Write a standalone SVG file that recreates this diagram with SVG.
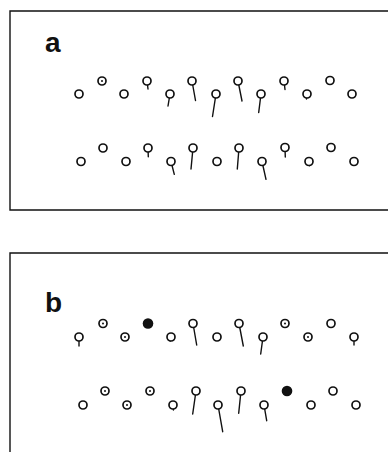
<svg xmlns="http://www.w3.org/2000/svg" width="388" height="452" viewBox="0 0 388 452">
  <style>
    .frame { fill: none; stroke: #111; stroke-width: 1.4; }
    .ring { fill: #fff; stroke: #111; stroke-width: 1.7; }
    .solid { fill: #111; stroke: none; }
    .dot { fill: #111; stroke: none; }
    .tail { stroke: #111; stroke-width: 1.4; stroke-linecap: round; fill: none; }
    .label { font-family: "Liberation Sans", Arial, sans-serif; font-weight: bold; font-size: 28px; fill: #111; }
  </style>
  <rect width="388" height="452" fill="#fff"/>

  <!-- panel frames (open on the right / bottom) -->
  <g id="frames">
    <path class="frame" d="M390 11 H10 V210 H390"/>
    <path class="frame" d="M390 253 H10 V454"/>
  </g>

  <text class="label" x="45" y="52">a</text>
  <text class="label" x="45" y="312">b</text>

  <!-- tails: orientation markers drawn from each site centre -->
  <g id="connectors">
    <!-- panel a, upper row -->
    <line class="tail" x1="79" y1="94" x2="79" y2="97.5"/>
    <line class="tail" x1="124" y1="94" x2="124" y2="97.5"/>
    <line class="tail" x1="147" y1="81" x2="148" y2="89"/>
    <line class="tail" x1="170" y1="94" x2="168" y2="106"/>
    <line class="tail" x1="192" y1="81" x2="195.5" y2="100.5"/>
    <line class="tail" x1="216" y1="94" x2="212.5" y2="116.5"/>
    <line class="tail" x1="238" y1="81" x2="242" y2="101"/>
    <line class="tail" x1="261" y1="94" x2="258.7" y2="112.5"/>
    <line class="tail" x1="284" y1="81" x2="285" y2="89.5"/>
    <line class="tail" x1="307" y1="94" x2="306.5" y2="99"/>
    <!-- panel a, lower row -->
    <line class="tail" x1="103" y1="148" x2="103" y2="151.5"/>
    <line class="tail" x1="126" y1="161.5" x2="126" y2="165"/>
    <line class="tail" x1="148" y1="148" x2="148.3" y2="156.7"/>
    <line class="tail" x1="171" y1="161.5" x2="174.3" y2="174.3"/>
    <line class="tail" x1="193" y1="148" x2="191" y2="169"/>
    <line class="tail" x1="239" y1="148" x2="237.3" y2="169"/>
    <line class="tail" x1="262" y1="161.5" x2="266" y2="179.3"/>
    <line class="tail" x1="285" y1="148" x2="285.3" y2="157"/>
    <line class="tail" x1="309" y1="161.5" x2="309.5" y2="165.7"/>
    <line class="tail" x1="354" y1="161.5" x2="354" y2="165"/>
    <!-- panel b, upper row -->
    <line class="tail" x1="79" y1="337" x2="79" y2="346"/>
    <line class="tail" x1="171" y1="337" x2="170.3" y2="341"/>
    <line class="tail" x1="193" y1="323.5" x2="196.7" y2="345"/>
    <line class="tail" x1="239" y1="323.5" x2="243.3" y2="346"/>
    <line class="tail" x1="263" y1="337" x2="260.7" y2="354"/>
    <line class="tail" x1="354" y1="337" x2="354" y2="345"/>
    <!-- panel b, lower row -->
    <line class="tail" x1="173" y1="405" x2="173.4" y2="410"/>
    <line class="tail" x1="196" y1="391" x2="192.7" y2="414"/>
    <line class="tail" x1="218" y1="405" x2="222.7" y2="431.7"/>
    <line class="tail" x1="241" y1="391" x2="238.7" y2="413.3"/>
    <line class="tail" x1="264" y1="405" x2="266.7" y2="420.7"/>
  </g>

  <!-- panel a, upper row -->
  <g id="a1-01"><circle class="ring" cx="79" cy="94" r="4"/></g>
  <g id="a1-02"><circle class="ring" cx="102" cy="81" r="4"/><circle class="dot" cx="102" cy="81" r="1"/></g>
  <g id="a1-03"><circle class="ring" cx="124" cy="94" r="4"/></g>
  <g id="a1-04"><circle class="ring" cx="147" cy="81" r="4"/></g>
  <g id="a1-05"><circle class="ring" cx="170" cy="94" r="4"/></g>
  <g id="a1-06"><circle class="ring" cx="192" cy="81" r="4"/></g>
  <g id="a1-07"><circle class="ring" cx="216" cy="94" r="4"/></g>
  <g id="a1-08"><circle class="ring" cx="238" cy="81" r="4"/></g>
  <g id="a1-09"><circle class="ring" cx="261" cy="94" r="4"/></g>
  <g id="a1-10"><circle class="ring" cx="284" cy="81" r="4"/></g>
  <g id="a1-11"><circle class="ring" cx="307" cy="94" r="4"/></g>
  <g id="a1-12"><circle class="ring" cx="330" cy="80.5" r="4"/></g>
  <g id="a1-13"><circle class="ring" cx="352" cy="94" r="4"/></g>

  <!-- panel a, lower row -->
  <g id="a2-01"><circle class="ring" cx="81" cy="161.5" r="4"/></g>
  <g id="a2-02"><circle class="ring" cx="103" cy="148" r="4"/></g>
  <g id="a2-03"><circle class="ring" cx="126" cy="161.5" r="4"/></g>
  <g id="a2-04"><circle class="ring" cx="148" cy="148" r="4"/></g>
  <g id="a2-05"><circle class="ring" cx="171" cy="161.5" r="4"/></g>
  <g id="a2-06"><circle class="ring" cx="193" cy="148" r="4"/></g>
  <g id="a2-07"><circle class="ring" cx="217" cy="161.5" r="4"/></g>
  <g id="a2-08"><circle class="ring" cx="239" cy="148" r="4"/></g>
  <g id="a2-09"><circle class="ring" cx="262" cy="161.5" r="4"/></g>
  <g id="a2-10"><circle class="ring" cx="285" cy="147.5" r="4"/></g>
  <g id="a2-11"><circle class="ring" cx="309" cy="161.5" r="4"/></g>
  <g id="a2-12"><circle class="ring" cx="331" cy="147.5" r="4"/></g>
  <g id="a2-13"><circle class="ring" cx="354" cy="161.5" r="4"/></g>

  <!-- panel b, upper row -->
  <g id="b1-01"><circle class="ring" cx="79" cy="337" r="4"/></g>
  <g id="b1-02"><circle class="ring" cx="103" cy="323.5" r="4"/><circle class="dot" cx="103" cy="323.5" r="1"/></g>
  <g id="b1-03"><circle class="ring" cx="125" cy="337" r="4"/><circle class="dot" cx="125" cy="337" r="1"/></g>
  <g id="b1-04"><circle class="solid" cx="148" cy="323.5" r="5.3"/></g>
  <g id="b1-05"><circle class="ring" cx="171" cy="337" r="4"/></g>
  <g id="b1-06"><circle class="ring" cx="193" cy="323.5" r="4"/></g>
  <g id="b1-07"><circle class="ring" cx="217" cy="337" r="4"/></g>
  <g id="b1-08"><circle class="ring" cx="239" cy="323.5" r="4"/></g>
  <g id="b1-09"><circle class="ring" cx="263" cy="337" r="4"/></g>
  <g id="b1-10"><circle class="ring" cx="285" cy="323.5" r="4"/><circle class="dot" cx="285" cy="323.5" r="1"/></g>
  <g id="b1-11"><circle class="ring" cx="308" cy="337" r="4"/><circle class="dot" cx="308" cy="337" r="1"/></g>
  <g id="b1-12"><circle class="ring" cx="331" cy="323.5" r="4"/></g>
  <g id="b1-13"><circle class="ring" cx="354" cy="337" r="4"/></g>

  <!-- panel b, lower row -->
  <g id="b2-01"><circle class="ring" cx="83" cy="405" r="4"/></g>
  <g id="b2-02"><circle class="ring" cx="105" cy="391" r="4"/><circle class="dot" cx="105" cy="391" r="1"/></g>
  <g id="b2-03"><circle class="ring" cx="127" cy="405" r="4"/><circle class="dot" cx="127" cy="405" r="1"/></g>
  <g id="b2-04"><circle class="ring" cx="150" cy="391" r="4"/><circle class="dot" cx="150" cy="391" r="1"/></g>
  <g id="b2-05"><circle class="ring" cx="173" cy="405" r="4"/></g>
  <g id="b2-06"><circle class="ring" cx="196" cy="391" r="4"/></g>
  <g id="b2-07"><circle class="ring" cx="218" cy="405" r="4"/></g>
  <g id="b2-08"><circle class="ring" cx="241" cy="391" r="4"/></g>
  <g id="b2-09"><circle class="ring" cx="264" cy="405" r="4"/></g>
  <g id="b2-10"><circle class="solid" cx="287" cy="391" r="5.3"/></g>
  <g id="b2-11"><circle class="ring" cx="311" cy="405" r="4"/></g>
  <g id="b2-12"><circle class="ring" cx="333" cy="391" r="4"/></g>
  <g id="b2-13"><circle class="ring" cx="356" cy="405" r="4"/></g>
</svg>
